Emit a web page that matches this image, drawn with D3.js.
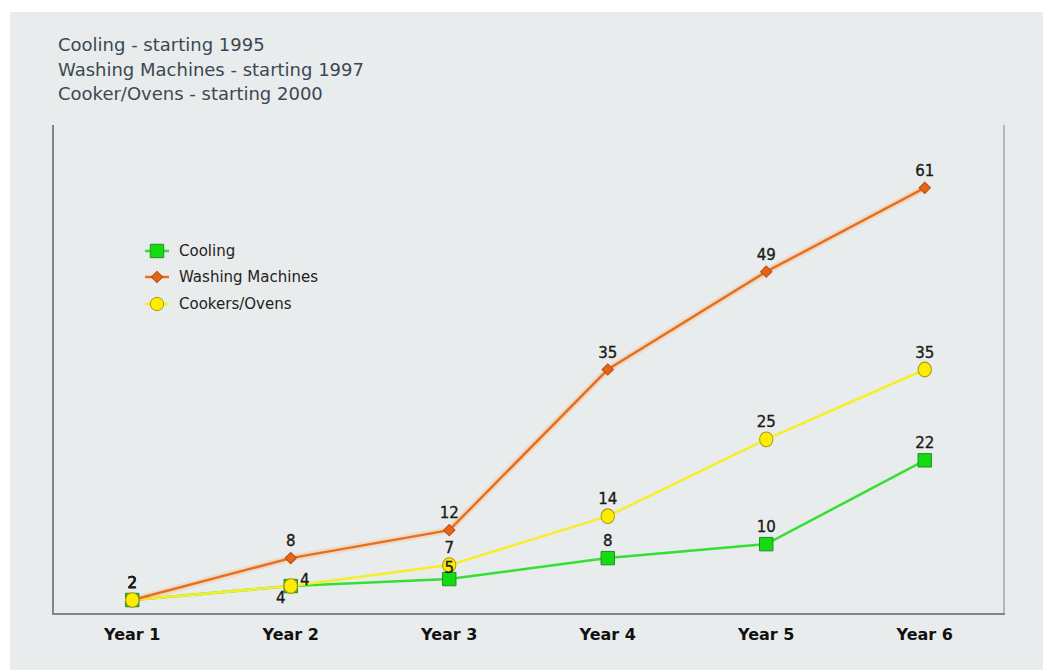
<!DOCTYPE html>
<html>
<head>
<meta charset="utf-8">
<script src="https://cdn.jsdelivr.net/npm/d3@7"></script>
<style>
  body { margin: 0; background: #ffffff; }
  svg { display: block; }
  .title { font-family: "DejaVu Sans", sans-serif; font-size: 18px; fill: #3b4852; }
  .lbl { font-family: "DejaVu Sans", sans-serif; font-size: 15px; fill: #1a1a1a; stroke: #1a1a1a; stroke-width: 0.35px; }
  .xlab { font-family: "DejaVu Sans", sans-serif; font-size: 16px; font-weight: bold; fill: #111; }
  .legtext { font-family: "DejaVu Sans", sans-serif; font-size: 15px; fill: #222; }
</style>
</head>
<body>
<svg width="1043" height="670"></svg>
<script>
// The data
var years = ["Year 1", "Year 2", "Year 3", "Year 4", "Year 5", "Year 6"];
var cooling = [2, 4, 5, 8, 10, 22];
var washing = [2, 8, 12, 35, 49, 61];
var cookers = [2, 4, 7, 14, 25, 35];
var titleLines = ["Cooling - starting 1995", "Washing Machines - starting 1997", "Cooker/Ovens - starting 2000"];
var legendText = ["Cooling", "Washing Machines", "Cookers/Ovens"];

var svg = d3.select("svg");

// grey panel
svg.append("rect")
    .attr("x", 10).attr("y", 12)
    .attr("width", 1033).attr("height", 658)
    .attr("fill", "#e9ecec");

// Title lines
svg.selectAll(".title")
    .data(titleLines)
    .enter()
    .append("text")
    .attr("class", "title")
    .attr("x", 58)
    .attr("y", function(d, i) { return 51 + i * 24.5; })
    .text(function(d) { return d; });

// Scales
var plotL = 53, plotR = 1004, plotT = 125, plotB = 614;
var x = d3.scalePoint().domain(years).range([plotL, plotR]).padding(0.5);
var y = d3.scaleLinear().domain([0, 70]).range([plotB, plotT]);

// frame
svg.append("line").attr("x1", plotR).attr("x2", plotR).attr("y1", plotT).attr("y2", plotB)
    .attr("stroke", "#a3a7a8").attr("stroke-width", 1.5);
svg.append("line").attr("x1", plotL).attr("x2", plotL).attr("y1", plotT).attr("y2", plotB)
    .attr("stroke", "#80868a").attr("stroke-width", 2);
svg.append("line").attr("x1", plotL - 1).attr("x2", plotR + 1).attr("y1", plotB).attr("y2", plotB)
    .attr("stroke", "#80868a").attr("stroke-width", 2);

// x axis labels
svg.selectAll(".xlab")
    .data(years)
    .enter()
    .append("text")
    .attr("class", "xlab")
    .attr("x", function(d) { return x(d); })
    .attr("y", 640)
    .attr("text-anchor", "middle")
    .text(function(d) { return d; });

var series = [
    { name: "Cooling", values: cooling, line: "#33e033", fill: "#11dd11", stroke: "#2a8a2a", shape: d3.symbolSquare, size: 180, rot: 0 },
    { name: "Washing Machines", values: washing, line: "#e8701c", fill: "#e4651a", stroke: "#b84e10", shape: d3.symbolSquare, size: 64, rot: 45 },
    { name: "Cookers/Ovens", values: cookers, line: "#f6ef28", fill: "#ffec00", stroke: "#a89a10", shape: d3.symbolCircle, size: 140, rot: 0 }
];

var line = d3.line()
    .x(function(d, i) { return x(years[i]); })
    .y(function(d) { return y(d); });

// lines, drawn cooling -> cookers -> washing
[0, 2, 1].forEach(function(k) {
    var s = series[k];
    if (k == 1) {
        svg.append("path").attr("d", line(s.values)).attr("fill", "none")
            .attr("stroke", "#f4b98e").attr("stroke-width", 7).attr("opacity", 0.35);
    }
    svg.append("path")
        .attr("d", line(s.values))
        .attr("fill", "none")
        .attr("stroke", s.line)
        .attr("stroke-width", 2.5);
});

// markers: washing below, cookers on top
var order = [1, 0, 2];
order.forEach(function(k) {
    var s = series[k];
    svg.selectAll(".m" + k)
        .data(s.values)
        .enter()
        .append("path")
        .attr("d", d3.symbol().type(s.shape).size(s.size))
        .attr("transform", function(d, i) {
            var extra = k == 2 ? "scale(1,1.1)" : "rotate(" + s.rot + ")";
            return "translate(" + x(years[i]) + "," + y(d) + ")" + extra;
        })
        .attr("fill", s.fill)
        .attr("stroke", s.stroke)
        .attr("stroke-width", 1);
});

// value labels (offsets for the crowded ones)
var labelOffsets = {
    "0-1": [-10, 29], "2-1": [14, 11], "0-2": [0, 6]
};
order.forEach(function(k) {
    var s = series[k];
    svg.selectAll(".v" + k)
        .data(s.values)
        .enter()
        .append("text")
        .attr("class", "lbl")
        .attr("text-anchor", "middle")
        .attr("x", function(d, i) {
            var o = labelOffsets[k + "-" + i];
            return x(years[i]) + (o ? o[0] : 0);
        })
        .attr("y", function(d, i) {
            var o = labelOffsets[k + "-" + i];
            return y(d) - 12 + (o ? o[1] : 0);
        })
        .text(function(d) { return d; });
});

// Legend
var legend = svg.append("g").attr("id", "legend");
var legenditem = legend.selectAll(".legenditem")
    .data(series)
    .enter()
    .append("g")
    .attr("class", "legenditem")
    .attr("transform", function(d, i) {
        return "translate(157," + [251, 277, 304][i] + ")";
    });

legenditem.append("line")
    .attr("x1", -12).attr("x2", 12)
    .attr("stroke", function(d) { return d.line; })
    .attr("stroke-width", 2.5);

legenditem.append("path")
    .attr("d", function(d) { return d3.symbol().type(d.shape).size(d.size)(); })
    .attr("transform", function(d) { return "rotate(" + d.rot + ")"; })
    .attr("fill", function(d) { return d.fill; })
    .attr("stroke", function(d) { return d.stroke; })
    .attr("stroke-width", 1);

legenditem.append("text")
    .attr("class", "legtext")
    .attr("x", 22)
    .attr("y", 5)
    .text(function(d, i) { return legendText[i]; });
</script>
</body>
</html>
